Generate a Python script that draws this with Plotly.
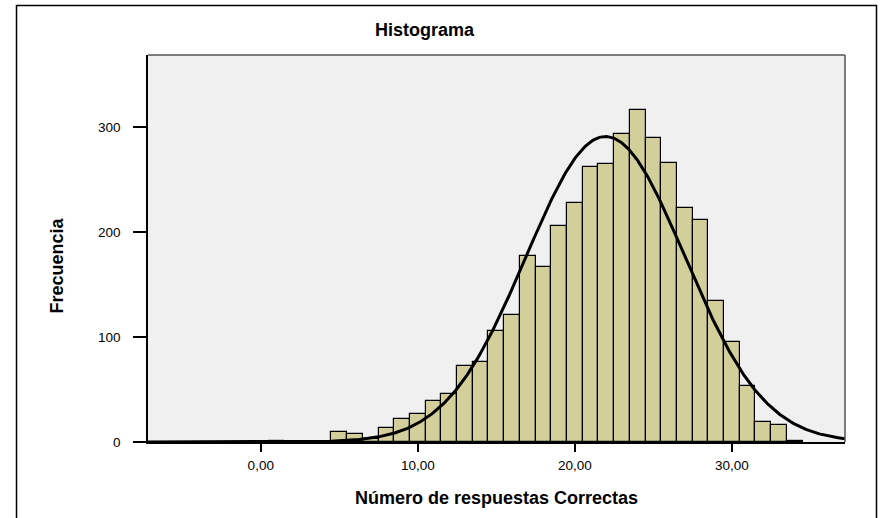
import numpy as np
import plotly.graph_objects as go

# ---- data ----
bin_centers = [1, 5, 6, 7, 8, 9, 10, 11, 12, 13, 14, 15, 16, 17, 18, 19, 20,
               21, 22, 23, 24, 25, 26, 27, 28, 29, 30, 31, 32, 33, 34]
counts = [1, 10, 8, 3, 13, 22, 27, 39, 46, 72, 76, 106, 121, 177, 167, 206, 228,
          262, 265, 293, 316, 290, 266, 223, 211, 134, 95, 53, 19, 16, 1]
bin_width = 1.0

# normal curve parameters
fit_mean = 21.95
fit_sd = 5.06
fit_n = 3690

x_tick_vals = [0, 10, 20, 30]
x_tick_text = ["0,00", "10,00", "20,00", "30,00"]
y_tick_vals = [0, 100, 200, 300]
y_tick_text = ["0", "100", "200", "300"]

title_text = "Histograma"
x_title = "Número de respuestas Correctas"
y_title = "Frecuencia"

x_range = [-7.18, 37.2]
y_range = [0, 368.6]

# ---- figure ----
W, H = 880, 518
L, R, T, B = 148, 35, 55, 76
pw, ph = W - L - R, H - T - B


def px_x(p):
    return (p - L) / pw


def px_y(p):
    return (H - B - p) / ph


xs = np.linspace(x_range[0], x_range[1], 600)
ys = fit_n * bin_width / (fit_sd * np.sqrt(2 * np.pi)) * np.exp(-0.5 * ((xs - fit_mean) / fit_sd) ** 2)

FONT = "Liberation Sans, Arial, sans-serif"

fig = go.Figure()
fig.add_trace(go.Bar(
    x=bin_centers, y=counts, width=bin_width,
    marker=dict(color="#D3CF9A", line=dict(color="#000000", width=1.2)),
    hoverinfo="x+y", showlegend=False,
))
fig.add_trace(go.Scatter(
    x=xs, y=ys, mode="lines",
    line=dict(color="#000000", width=3),
    hoverinfo="skip", showlegend=False,
))

fig.update_layout(
    width=W, height=H,
    margin=dict(l=L, r=R, t=T, b=B, pad=0),
    paper_bgcolor="#FFFFFF",
    plot_bgcolor="#F0F0F0",
    bargap=0,
    font=dict(family=FONT, color="#000000", size=12),
    xaxis=dict(
        range=x_range, tickmode="array", tickvals=x_tick_vals, ticktext=x_tick_text,
        ticks="outside", ticklen=8, tickwidth=2, tickcolor="#000000",
        showline=True, linecolor="#000000", linewidth=1.5,
        showgrid=False, zeroline=False, ticklabelstandoff=2,
        tickfont=dict(family=FONT, size=13.5, color="#000000"),
    ),
    yaxis=dict(
        range=y_range, tickmode="array", tickvals=y_tick_vals, ticktext=y_tick_text,
        ticks="outside", ticklen=13, tickwidth=2, tickcolor="#000000",
        showline=True, linecolor="#000000", linewidth=1.5,
        showgrid=False, zeroline=False, ticklabelstandoff=10,
        tickfont=dict(family=FONT, size=13.5, color="#000000"),
    ),
    shapes=[
        # plot-area border (top and right)
        dict(type="line", xref="paper", yref="paper", x0=0, x1=1, y0=1, y1=1,
             line=dict(color="#555555", width=1.5)),
        dict(type="line", xref="paper", yref="paper", x0=1, x1=1, y0=0, y1=1,
             line=dict(color="#555555", width=1.5)),
        # outer frame
        dict(type="rect", xref="paper", yref="paper",
             x0=px_x(16.5), x1=px_x(876.5), y0=px_y(530), y1=px_y(5.5),
             line=dict(color="#000000", width=1.5), fillcolor="rgba(0,0,0,0)"),
    ],
    annotations=[
        dict(text="<b>%s</b>" % title_text, xref="paper", yref="paper",
             x=px_x(425), y=px_y(30), xanchor="center", yanchor="middle",
             showarrow=False, font=dict(family=FONT, size=18, color="#000000")),
        dict(text="<b>%s</b>" % x_title, xref="paper", yref="paper",
             x=px_x(496.5), y=px_y(498), xanchor="center", yanchor="middle",
             showarrow=False, font=dict(family=FONT, size=18, color="#000000")),
        dict(text="<b>%s</b>" % y_title, xref="paper", yref="paper",
             x=px_x(56), y=px_y(265.5), xanchor="center", yanchor="middle",
             textangle=-90, showarrow=False,
             font=dict(family=FONT, size=18, color="#000000")),
    ],
)

fig.write_html("out.html",
               config={"displayModeBar": False},
               post_script="document.body.style.margin='0';document.body.style.padding='0';")
